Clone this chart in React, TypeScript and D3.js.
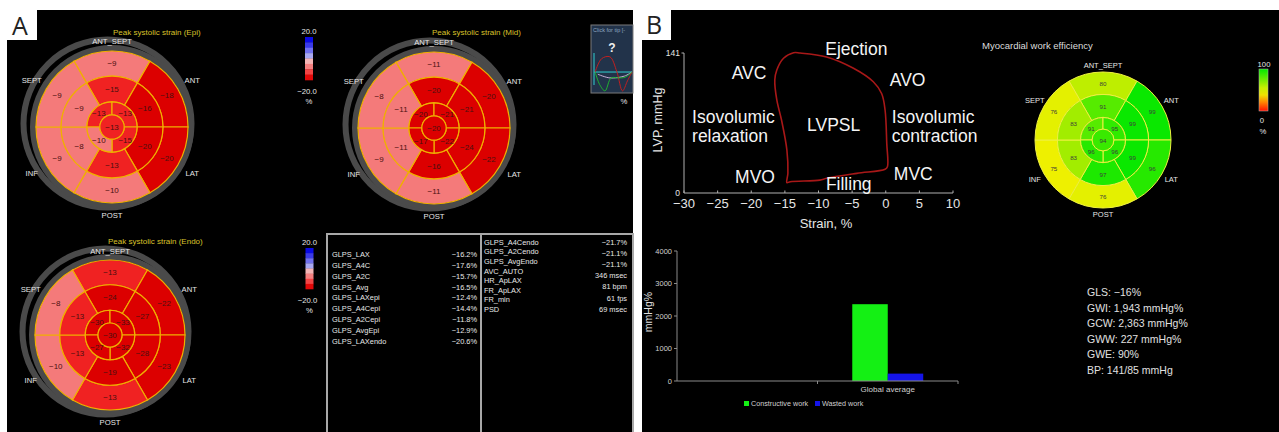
import React from 'react';
import * as d3 from 'd3';

const W = 1279;
const H = 432;
const FONT = '"Liberation Sans", Arial, Helvetica, sans-serif';

// bullseye segment order: ANT_SEPT, ANT, LAT, POST, INF, SEPT
const segmentLabels = ['ANT_SEPT', 'ANT', 'LAT', 'POST', 'INF', 'SEPT'];

// peak systolic strain, %
const epiBasal = [-9, -18, -20, -10, -9, -9];
const epiMid = [-15, -16, -20, -13, -8, -9];
// apical quadrants: upper-left, upper-right, lower-right, lower-left
const epiApical = [-13, -13, -15, -10];
const epiApex = -13;

const midBasal = [-11, -20, -22, -11, -9, -8];
const midMid = [-20, -21, -24, -16, -11, -11];
const midApical = [-20, -21, -22, -17];
const midApex = -20;

const endoBasal = [-13, -22, -23, -13, -10, -8];
const endoMid = [-24, -27, -28, -19, -13, -13];
const endoApical = [-30, -33, -32, -27];
const endoApex = -30;

// myocardial work efficiency, %
const weBasal = [80, 99, 96, 76, 75, 76];
const weMid = [91, 99, 99, 97, 83, 83];
const weApical = [91, 95, 96, 96];
const weApex = 94;

const strainBarColors = ['#0a0ae4', '#3a3aea', '#7070ee', '#a8a8f2', '#f4b4b4', '#f48080', '#f24444', '#e20808'];

const tableLeftLabels = ['GLPS_LAX', 'GLPS_A4C', 'GLPS_A2C', 'GLPS_Avg', 'GLPS_LAXepi', 'GLPS_A4Cepi', 'GLPS_A2Cepi', 'GLPS_AvgEpi', 'GLPS_LAXendo'];
const tableLeftValues = ['\u221216.2%', '\u221217.6%', '\u221215.7%', '\u221216.5%', '\u221212.4%', '\u221214.4%', '\u221211.8%', '\u221212.9%', '\u221220.6%'];
const tableRightLabels = ['GLPS_A4Cendo', 'GLPS_A2Cendo', 'GLPS_AvgEndo', 'AVC_AUTO', 'HR_ApLAX', 'FR_ApLAX', 'FR_min', 'PSD'];
const tableRightValues = ['\u221221.7%', '\u221221.1%', '\u221221.1%', '346 msec', '81 bpm', '61 fps', '69 msec'];

// pressure-strain loop
const strainTicks = [-30, -25, -20, -15, -10, -5, 0, 5, 10];
const loopStrain = [-12.75, -8.8, -4.8, -1.85, -0.6, -0.1, 0.15, 0.25, -0.1, -4.3, -8.8, -9.8, -14.2, -14.7, -14.55, -14.7, -15.5, -16.2, -16.5, -16.2, -15.2, -13.7];
const loopLVP = [141, 137, 125.6, 112, 100, 83.6, 50, 26.5, 23.9, 19.8, 14.8, 13, 11.4, 10.4, 19.8, 43.3, 73.5, 93.7, 113.8, 123.9, 135.7, 141.3];
const phaseText = ['Ejection', 'AVC', 'AVO', 'Isovolumic', 'relaxation', 'LVPSL', 'Isovolumic', 'contraction', 'MVO', 'MVC', 'Filling'];
const phaseStrain = [-9.0, -22.9, 0.6, -28.8, -28.8, -11.7, 0.9, 0.9, -22.4, 1.2, -8.9];
const phaseLVP = [139, 115, 108, 70, 51, 62.4, 70, 51, 10.1, 13.1, 3];

// work bar chart
const workCategories = ['', 'Global average'];
const workSeries = ['Constructive work', 'Wasted work'];
const workValues = [2363, 227];
const workColors = ['#14f014', '#1414e8'];
const workTicks = [0, 1000, 2000, 3000, 4000];

const statLines = ['GLS: \u221216%', 'GWI: 1,943 mmHg%', 'GCW: 2,363 mmHg%', 'GWW: 227 mmHg%', 'GWE: 90%', 'BP: 141/85 mmHg'];

// tip icon traces (unit coords)
const tipRed = [[0.03, 0.46], [0.2, 0.1], [0.42, 0.05], [0.6, 0.45], [0.75, 0.97], [0.88, 0.7], [1, 0.46]];
const tipGreen = [[0.03, 0.46], [0.15, 0.8], [0.29, 0.97], [0.45, 0.62], [0.65, 0.62], [0.82, 0.6], [1, 0.46]];
const tipPurple = [[0.1, 0.52], [0.42, 0.62], [0.8, 0.57], [1, 0.46]];

const deg = Math.PI / 180;

const strainColor = d3.scaleThreshold<number, string>().domain([-15.5, -11.5]).range(['#dc0000', '#f02222', '#f47a7a']);
const weColor = d3.scaleLinear<string>().domain([0, 75, 100]).range(['#ff2000', '#eef000', '#00e800']).clamp(true);

const fmt = (v: number) => (v < 0 ? '\u2212' + Math.abs(v) : String(v));

function Bullseye(props: any) {
  const { cx, cy, r, basal, mid, apical, apex, color, line, lineW, valueColor, valueSize, labelSize, labelR, ring, title, titleX, titleY } = props;
  const apexR = r * 0.16, apR = r * 0.33, midR = r * 0.67;
  const arc = d3.arc<any>();
  const segs: any[] = [];
  basal.forEach((v: number, i: number) => segs.push({ v, innerRadius: midR, outerRadius: r, startAngle: (-30 + 60 * i) * deg, endAngle: (30 + 60 * i) * deg }));
  mid.forEach((v: number, i: number) => segs.push({ v, innerRadius: apR, outerRadius: midR, startAngle: (-30 + 60 * i) * deg, endAngle: (30 + 60 * i) * deg }));
  apical.forEach((v: number, i: number) => segs.push({ v, innerRadius: apexR, outerRadius: apR, startAngle: (-90 + 90 * i) * deg, endAngle: (90 * i) * deg }));
  return (
    <g>
      {title && (
        <text x={titleX} y={titleY} fill="#d8c22a" fontSize={8} dominantBaseline="central">{title}</text>
      )}
      {ring && (
        <g fill="none" stroke="#4a4a4a" strokeWidth={6}>
          <circle cx={cx - 4.5} cy={cy - 3.5} r={r + 8} />
          <circle cx={cx} cy={cy} r={r + 3} />
        </g>
      )}
      <g transform={`translate(${cx},${cy})`}>
        {segs.map((s, i) => (
          <path key={i} d={arc(s) as string} fill={color(s.v)} stroke={line} strokeWidth={lineW} />
        ))}
        <circle r={apexR} fill={color(apex)} stroke={line} strokeWidth={lineW} />
        <g fill={valueColor} fontSize={valueSize} textAnchor="middle" dominantBaseline="central">
          {segs.map((s, i) => {
            const [x, y] = arc.centroid(s);
            return <text key={i} x={x} y={y}>{fmt(s.v)}</text>;
          })}
          <text x={0} y={0}>{fmt(apex)}</text>
        </g>
        <g fill="#e6e6e6" fontSize={labelSize} textAnchor="middle" dominantBaseline="central">
          {segmentLabels.map((l, i) => {
            const a = 60 * i * deg;
            const R = r * labelR[i];
            return <text key={l} x={Math.sin(a) * R} y={-Math.cos(a) * R}>{l}</text>;
          })}
        </g>
      </g>
    </g>
  );
}

function StrainColorbar({ x, y0, y1 }: { x: number; y0: number; y1: number }) {
  const band = d3.scaleBand<number>().domain(d3.range(strainBarColors.length)).range([y0, y1]);
  return (
    <g>
      {strainBarColors.map((c, i) => (
        <rect key={i} x={x} y={band(i)} width={8} height={band.bandwidth() + 0.3} fill={c} />
      ))}
      <g fill="#e6e6e6" fontSize={7.7} textAnchor="middle" dominantBaseline="central">
        <text x={x + 4} y={y0 - 5.5}>20.0</text>
        <text x={x + 2} y={y1 + 11}>{'\u221220.0'}</text>
        <text x={x + 4} y={y1 + 21}>%</text>
      </g>
    </g>
  );
}

function TipInset() {
  const x0 = 591, y0 = 25, w = 42, h = 68;
  const sx = d3.scaleLinear().domain([0, 1]).range([594, 632]);
  const sy = d3.scaleLinear().domain([0, 1]).range([55, 92]);
  const ln = d3.line<number[]>().x(d => sx(d[0])).y(d => sy(d[1])).curve(d3.curveCatmullRom);
  return (
    <g>
      <rect x={x0} y={y0} width={w} height={h} fill="#22334a" stroke="#7a7a7a" strokeWidth={1} />
      <text x={x0 + 2} y={y0 + 5} fontSize={5.5} fill="#8fa6c0" dominantBaseline="central">Click for tip [-</text>
      <text x={612} y={48} fontSize={12} fontWeight="bold" fill="#f0f0f0" textAnchor="middle" dominantBaseline="central">?</text>
      <line x1={594} x2={632} y1={sy(0.46)} y2={sy(0.46)} stroke="#30d0d0" strokeWidth={1} />
      <line x1={594} x2={594} y1={53} y2={85} stroke="#30d0d0" strokeWidth={1} />
      <path d={ln(tipPurple) as string} fill="none" stroke="#c8b0d8" strokeWidth={1} />
      <path d={ln(tipRed) as string} fill="none" stroke="#c02020" strokeWidth={1} />
      <path d={ln(tipGreen) as string} fill="none" stroke="#20b030" strokeWidth={1} />
      <text x={624} y={101} fontSize={7.7} fill="#e6e6e6" textAnchor="middle" dominantBaseline="central">%</text>
    </g>
  );
}

function Table() {
  return (
    <g fontSize={7.4} fill="#e8e8e8">
      <rect x={327} y={234} width={306} height={210} fill="none" stroke="#a8a8a8" strokeWidth={2} />
      <line x1={481} x2={481} y1={234} y2={440} stroke="#a8a8a8" strokeWidth={2} />
      {tableLeftLabels.map((l, i) => (
        <text key={l} x={332} y={254.3 + i * 10.92} dominantBaseline="central">{l}</text>
      ))}
      {tableLeftValues.map((v, i) => (
        <text key={i} x={477} y={254.3 + i * 10.92} textAnchor="end" dominantBaseline="central">{v}</text>
      ))}
      {tableRightLabels.map((l, i) => (
        <text key={l} x={484} y={242.3 + i * 9.57} dominantBaseline="central">{l}</text>
      ))}
      {tableRightValues.map((v, i) => (
        <text key={i} x={627} y={242.3 + i * 11.17} textAnchor="end" dominantBaseline="central">{v}</text>
      ))}
    </g>
  );
}

function LoopChart() {
  const x = d3.scaleLinear().domain([-30, 10]).range([684, 953]);
  const y = d3.scaleLinear().domain([0, 141]).range([193, 53]);
  const pts = loopStrain.map((s, i) => [s, loopLVP[i]]);
  const line = d3.line<number[]>().x(d => x(d[0])).y(d => y(d[1])).curve(d3.curveCatmullRomClosed.alpha(0.5));
  return (
    <g>
      <line x1={x(-30)} x2={x(10)} y1={y(0)} y2={y(0)} stroke="#b0b0b0" strokeWidth={1} />
      <line x1={x(-30)} x2={x(-30)} y1={y(0)} y2={y(141)} stroke="#b0b0b0" strokeWidth={1} />
      <line x1={x(-30) - 2.5} x2={x(-30)} y1={y(141)} y2={y(141)} stroke="#b0b0b0" strokeWidth={1} />
      {strainTicks.map(t => (
        <g key={t}>
          <line x1={x(t)} x2={x(t)} y1={y(0)} y2={y(0) - 2.5} stroke="#b0b0b0" strokeWidth={1} />
          <text x={x(t)} y={203.5} fill="#e6e6e6" fontSize={13} textAnchor="middle" dominantBaseline="central">{fmt(t)}</text>
        </g>
      ))}
      <text x={680} y={y(141)} fill="#e6e6e6" fontSize={8.5} textAnchor="end" dominantBaseline="central">141</text>
      <text x={680} y={y(0)} fill="#e6e6e6" fontSize={8.5} textAnchor="end" dominantBaseline="central">0</text>
      <text x={826} y={223.5} fill="#e6e6e6" fontSize={13} textAnchor="middle" dominantBaseline="central">Strain, %</text>
      <text transform="translate(658,120) rotate(-90)" fill="#e6e6e6" fontSize={12.5} textAnchor="middle" dominantBaseline="central">LVP, mmHg</text>
      <path d={line(pts) as string} fill="none" stroke="#a81818" strokeWidth={1.6} />
      <g fill="#f4f4f4" fontSize={17.5}>
        {phaseText.map((t, i) => (
          <text key={i} x={x(phaseStrain[i])} y={y(phaseLVP[i])}>{t}</text>
        ))}
      </g>
    </g>
  );
}

function WorkBars() {
  const x = d3.scaleBand<string>().domain(workCategories).range([677, 958]);
  const sub = d3.scaleBand<string>().domain(workSeries).range([0, x.bandwidth()]).paddingInner(0).paddingOuter(0.98);
  const y = d3.scaleLinear().domain([0, 4000]).range([381, 251]);
  const cat = workCategories[1];
  return (
    <g>
      {workSeries.map((s, i) => (
        <rect key={s} x={(x(cat) as number) + (sub(s) as number)} y={y(workValues[i])} width={sub.bandwidth()} height={y(0) - y(workValues[i])} fill={workColors[i]} />
      ))}
      <line x1={677} x2={958} y1={y(0)} y2={y(0)} stroke="#8a8a8a" strokeWidth={1} />
      <line x1={677} x2={677} y1={y(0)} y2={y(4000)} stroke="#8a8a8a" strokeWidth={1} />
      {workCategories.slice(1).map(c => (
        <line key={c} x1={x(c)} x2={x(c)} y1={y(0)} y2={y(0) + 3} stroke="#8a8a8a" strokeWidth={1} />
      ))}
      <line x1={958} x2={958} y1={y(0)} y2={y(0) + 3} stroke="#8a8a8a" strokeWidth={1} />
      {workTicks.map(t => (
        <g key={t}>
          <line x1={674} x2={677} y1={y(t)} y2={y(t)} stroke="#8a8a8a" strokeWidth={1} />
          <text x={672} y={y(t)} fill="#d0d0d0" fontSize={7.5} textAnchor="end" dominantBaseline="central">{t}</text>
        </g>
      ))}
      <text x={(x(cat) as number) + x.bandwidth() / 2} y={389} fill="#d0d0d0" fontSize={8} textAnchor="middle" dominantBaseline="central">{cat}</text>
      <text transform="translate(648,312) rotate(-90)" fill="#e0e0e0" fontSize={10.5} textAnchor="middle" dominantBaseline="central">mmHg%</text>
      <rect x={744} y={401} width={5} height={5} fill={workColors[0]} />
      <text x={751} y={403.5} fill="#d0d0d0" fontSize={7.2} dominantBaseline="central">{workSeries[0]}</text>
      <rect x={815} y={401} width={5} height={5} fill={workColors[1]} />
      <text x={822} y={403.5} fill="#d0d0d0" fontSize={7.2} dominantBaseline="central">{workSeries[1]}</text>
    </g>
  );
}

export default function App() {
  const strainLabelR = [1.12, 1.22, 1.22, 1.16, 1.22, 1.22];
  const weLabelR = [1.1, 1.16, 1.16, 1.1, 1.16, 1.16];
  return (
    <svg width={W} height={H} style={{ position: 'absolute', left: 0, top: 0, background: '#fff' }} fontFamily={FONT}>
      <rect x={0} y={0} width={W} height={H} fill="#fff" />
      {/* panel A */}
      <rect x={7} y={10} width={626} height={H - 10} fill="#000" />
      <Bullseye cx={112} cy={127} r={76} basal={epiBasal} mid={epiMid} apical={epiApical} apex={epiApex}
        color={strainColor} line="#f0b000" lineW={1.2} valueColor="#4b1010" valueSize={8} labelSize={7.7}
        labelR={strainLabelR} ring title="Peak systolic strain (Epi)" titleX={113} titleY={32} />
      <Bullseye cx={434} cy={128} r={76} basal={midBasal} mid={midMid} apical={midApical} apex={midApex}
        color={strainColor} line="#f0b000" lineW={1.2} valueColor="#4b1010" valueSize={8} labelSize={7.7}
        labelR={strainLabelR} ring title="Peak systolic strain (Mid)" titleX={432} titleY={32} />
      <Bullseye cx={110} cy={335} r={75} basal={endoBasal} mid={endoMid} apical={endoApical} apex={endoApex}
        color={strainColor} line="#f0b000" lineW={1.2} valueColor="#4b1010" valueSize={8} labelSize={7.7}
        labelR={strainLabelR} ring title="Peak systolic strain (Endo)" titleX={108} titleY={241} />
      <StrainColorbar x={305} y0={37} y1={80} />
      <StrainColorbar x={305.5} y0={248} y1={289} />
      <TipInset />
      <Table />

      {/* panel B */}
      <rect x={642} y={10} width={W - 642} height={H - 10} fill="#000" />
      <LoopChart />
      <text x={982} y={45} fill="#dcdcdc" fontSize={9.5} dominantBaseline="central">Myocardial work efficiency</text>
      <Bullseye cx={1103} cy={140} r={68} basal={weBasal} mid={weMid} apical={weApical} apex={weApex}
        color={weColor} line="#eef040" lineW={1} valueColor="#3c3c3c" valueSize={6.2} labelSize={7.5}
        labelR={weLabelR} ring={false} />
      <defs>
        <linearGradient id="weGrad" x1="0" y1="0" x2="0" y2="1">
          <stop offset="0%" stopColor="#00e800" />
          <stop offset="45%" stopColor="#c8f000" />
          <stop offset="62%" stopColor="#f0e000" />
          <stop offset="80%" stopColor="#ff8000" />
          <stop offset="100%" stopColor="#ff1000" />
        </linearGradient>
      </defs>
      <rect x={1259} y={69} width={9} height={42} fill="url(#weGrad)" stroke="#bbb" strokeWidth={0.5} />
      <g fill="#e6e6e6" fontSize={7.7} textAnchor="middle" dominantBaseline="central">
        <text x={1264} y={64}>100</text>
        <text x={1262} y={120}>0</text>
        <text x={1263} y={131}>%</text>
      </g>
      <WorkBars />
      <g fill="#e0e0e0" fontSize={10.5}>
        {statLines.map((s, i) => (
          <text key={i} x={1087} y={296 + i * 15.6}>{s}</text>
        ))}
      </g>

      {/* panel letters */}
      <rect x={0} y={0} width={37} height={40} fill="#fff" />
      <text x={20} y={25} fontSize={25} fontFamily='"Open Sans", "DejaVu Sans", sans-serif' fill="#222" textAnchor="middle" dominantBaseline="central">A</text>
      <rect x={635} y={0} width={36} height={40} fill="#fff" />
      <text x={654} y={24} fontSize={25} fontFamily='"Open Sans", "DejaVu Sans", sans-serif' fill="#222" textAnchor="middle" dominantBaseline="central">B</text>
    </svg>
  );
}
